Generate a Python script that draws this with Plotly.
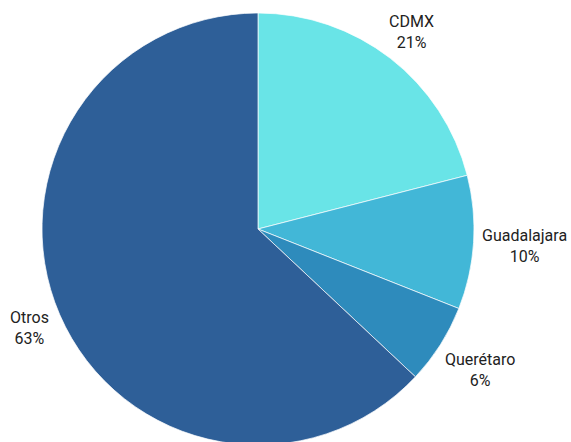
import math
import plotly.graph_objects as go

# Share of respondents by city
labels = ["CDMX", "Guadalajara", "Querétaro", "Otros"]
values = [21, 10, 6, 63]
colors = ["#69E4E7", "#42B7D7", "#2E8BBC", "#2E5F98"]

FONT = "Roboto"
FONT_SIZE = 16
PLOT_PX = 432          # square plot area, pie fills it
LABEL_RING = 1.028     # label boxes sit just outside the pie edge


def text_width(line):
    # rough Roboto 16px advance widths
    return sum(10.5 if c.isupper() else 7.8 for c in line)


fig = go.Figure(
    go.Pie(
        labels=labels,
        values=values,
        sort=False,
        direction="clockwise",
        rotation=0,
        marker=dict(colors=colors, line=dict(color="white", width=0.7)),
        textinfo="none",
        showlegend=False,
        hoverinfo="label+percent",
    )
)

# outside labels: centered boxes pushed out along each slice's mid-angle
total = sum(values)
cum = 0
radius_px = PLOT_PX / 2
for lab, val in zip(labels, values):
    pct = round(100 * val / total)
    mid = math.radians(90 - 360 * (cum + val / 2) / total)
    cum += val
    lines = [lab, f"{pct}%"]
    hw = max(text_width(l) for l in lines) / 2
    hh = 19
    dist = radius_px * LABEL_RING + hw * abs(math.cos(mid)) + hh * abs(math.sin(mid))
    fig.add_annotation(
        x=0.5 + dist * math.cos(mid) / PLOT_PX,
        y=0.5 + dist * math.sin(mid) / PLOT_PX,
        xref="paper",
        yref="paper",
        text="<br>".join(lines),
        showarrow=False,
        xanchor="center",
        yanchor="middle",
        align="center",
        font=dict(family=FONT, size=FONT_SIZE, color="#222222"),
    )

fig.update_layout(
    width=571,
    height=460,
    margin=dict(l=42, r=97, t=13, b=15, autoexpand=False),
    paper_bgcolor="white",
    plot_bgcolor="white",
    font=dict(family=FONT, size=FONT_SIZE, color="#222222"),
)

fig.write_html(
    "out.html",
    post_script="document.body.style.margin='0';document.body.style.overflow='hidden';",
)
